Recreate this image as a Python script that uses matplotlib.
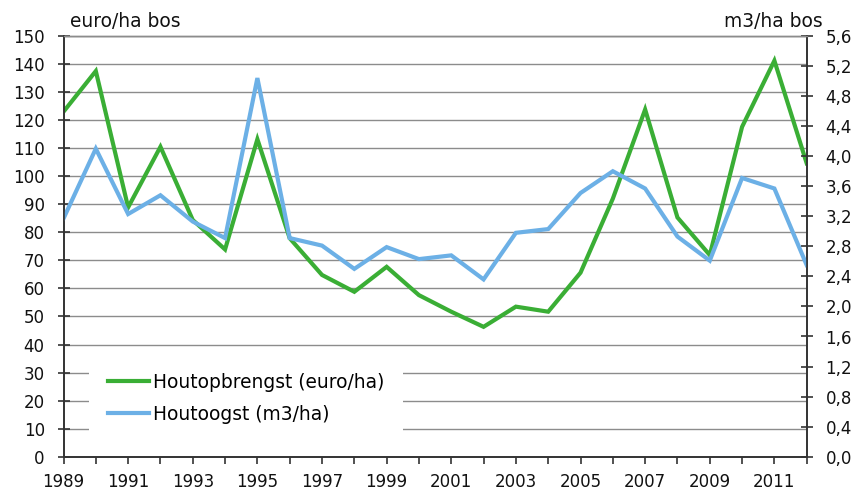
import matplotlib
matplotlib.use("Agg")
import matplotlib.pyplot as plt
from matplotlib.ticker import FuncFormatter, MultipleLocator
from matplotlib.lines import Line2D

years = list(range(1989, 2013))
houtopbrengst = [123.0, 137.5, 88.9, 110.5, 84.4, 73.9, 113.2, 77.9, 64.8, 58.8, 67.7, 57.6,
                 51.7, 46.3, 53.5, 51.7, 65.6, 92.0, 123.8, 85.3, 71.9, 117.6, 141.2, 104.6]
houtoogst = [3.17, 4.10, 3.23, 3.48, 3.13, 2.91, 5.04, 2.91, 2.81, 2.50, 2.79, 2.63,
             2.68, 2.36, 2.98, 3.03, 3.51, 3.80, 3.57, 2.93, 2.61, 3.71, 3.57, 2.55]
label_green = "Houtopbrengst (euro/ha)"
label_blue = "Houtoogst (m3/ha)"
left_unit = "euro/ha bos"
right_unit = "m3/ha bos"

green = "#3AAE35"
blue = "#6CB0E6"
grid_c = "#8C8C8C"
fs = 12
fs_txt = 13.4

plt.rcParams['font.family'] = ['DejaVu Sans']

fig = plt.figure(figsize=(8.56, 4.90), dpi=100)
ax = fig.add_axes([63.5/856, 1 - 456.7/490, (806.7-63.5)/856, (456.7-36)/490])
ax2 = ax.twinx()

ax.plot(years, houtopbrengst, color=green, lw=3, solid_joinstyle='miter')
ax2.plot(years, houtoogst, color=blue, lw=3, solid_joinstyle='miter')

ax.set_xlim(1989, 2012)
ax.set_ylim(0, 150)
ax2.set_ylim(0, 5.6)
ax.yaxis.set_major_locator(MultipleLocator(10))
ax2.yaxis.set_major_locator(MultipleLocator(0.4))
ax2.yaxis.set_major_formatter(FuncFormatter(lambda v, p: f"{v:.1f}".replace('.', ',')))

ax.set_xticks(years)
ax.set_xticklabels([str(y) if (y - 1989) % 2 == 0 else "" for y in years])

ax.grid(axis='y', color=grid_c, lw=1)
ax.set_axisbelow(True)

for a in (ax, ax2):
    a.spines['top'].set_color(grid_c)
    a.spines['top'].set_linewidth(1)
    for s in ('left', 'right', 'bottom'):
        a.spines[s].set_color('#333333')
        a.spines[s].set_linewidth(1.2)
    a.tick_params(axis='y', direction='inout', length=8, width=1.2, color='#333333',
                  labelsize=fs, labelcolor='#111111', pad=9.5)
ax.tick_params(axis='x', direction='out', length=5, width=1.2, color='#333333',
               labelsize=fs, labelcolor='#111111', pad=7)

ax.text(0.009, 1.012, left_unit, transform=ax.transAxes, fontsize=fs_txt,
        ha='left', va='bottom', color='#111111')
ax2.text(1.022, 1.012, right_unit, transform=ax.transAxes, fontsize=fs_txt,
         ha='right', va='bottom', color='#111111')

handles = [Line2D([], [], color=green, lw=3), Line2D([], [], color=blue, lw=3)]
leg = ax2.legend(handles, [label_green, label_blue], loc='upper left',
                 bbox_to_anchor=(0.0343, 0.244), frameon=True, facecolor='white',
                 edgecolor='none', framealpha=1, fancybox=False, fontsize=fs_txt,
                 handlelength=2.2, handletextpad=0.25, labelspacing=0.71,
                 borderpad=1.0, borderaxespad=0)

fig.savefig("out.png", dpi=100)
